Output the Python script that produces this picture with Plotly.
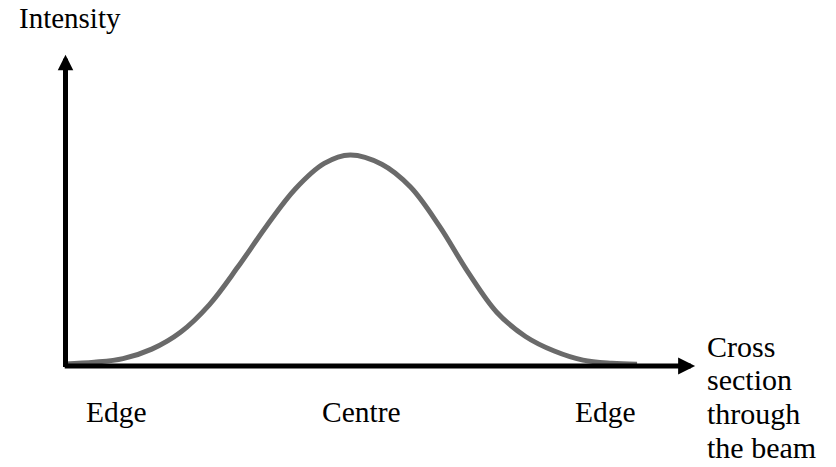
import plotly.graph_objects as go

# Beam intensity profile across the cross section (edge -> centre -> edge)
beam_pos = [0.0, 0.05, 0.10, 0.15, 0.20, 0.25, 0.30, 0.35, 0.40, 0.45, 0.495,
            0.55, 0.60, 0.65, 0.70, 0.75, 0.80, 0.85, 0.90, 0.95, 0.994]
intensity = [0.01, 0.018, 0.035, 0.08, 0.16, 0.29, 0.47, 0.665, 0.84, 0.96, 1.0,
             0.956, 0.848, 0.664, 0.445, 0.255, 0.14, 0.071, 0.028, 0.013, 0.008]

# Position labels along the cross section
pos_labels = ["Edge", "Centre", "Edge"]
pos_label_x = [0.088, 0.514, 0.939]

y_title = "Intensity"
x_title_lines = ["Cross", "section", "through", "the beam"]

FONT = "Liberation Serif, Times New Roman, serif"
W, H = 836, 467

fig = go.Figure()
fig.add_trace(go.Scatter(
    x=beam_pos, y=intensity, mode="lines",
    line=dict(color="#6a6a6a", width=5, shape="spline", smoothing=1.0),
    hoverinfo="skip", showlegend=False,
))

annotations = []
# Axis arrows
annotations.append(dict(x=1.095, y=0, ax=-0.004, ay=0, xref="x", yref="y",
                        axref="x", ayref="y", text="", showarrow=True,
                        arrowhead=2, arrowsize=0.68, arrowwidth=5, arrowcolor="black"))
annotations.append(dict(x=0, y=1.475, ax=0, ay=-0.012, xref="x", yref="y",
                        axref="x", ayref="y", text="", showarrow=True,
                        arrowhead=2, arrowsize=0.62, arrowwidth=5, arrowcolor="black"))

# Y-axis title
annotations.append(dict(x=17 / W, y=1 - 18.5 / H, xref="paper", yref="paper",
                        text=y_title, showarrow=False, xanchor="left", yanchor="middle",
                        font=dict(family=FONT, size=29, color="black")))

# Position labels under the axis
for lx, lt in zip(pos_label_x, pos_labels):
    annotations.append(dict(x=lx, y=-0.22, xref="x", yref="y", text=lt,
                            showarrow=False, xanchor="center", yanchor="middle",
                            font=dict(family=FONT, size=29.5, color="black")))

# X-axis title, one line per annotation for tight spacing
baselines = [356, 389.5, 423, 457]
for bl, tl in zip(baselines, x_title_lines):
    annotations.append(dict(x=705 / W, y=1 - (bl - 10) / H, xref="paper", yref="paper",
                            text=tl, showarrow=False, xanchor="left", yanchor="middle",
                            font=dict(family=FONT, size=30, color="black")))

fig.update_layout(
    width=W, height=H,
    margin=dict(l=0, r=0, t=0, b=0),
    paper_bgcolor="white", plot_bgcolor="white",
    xaxis=dict(range=[-65.5 / 575, (W - 65.5) / 575], visible=False, fixedrange=True),
    yaxis=dict(range=[(366 - H) / 211, 366 / 211], visible=False, fixedrange=True),
    annotations=annotations,
)

fig.write_html("out.html")
